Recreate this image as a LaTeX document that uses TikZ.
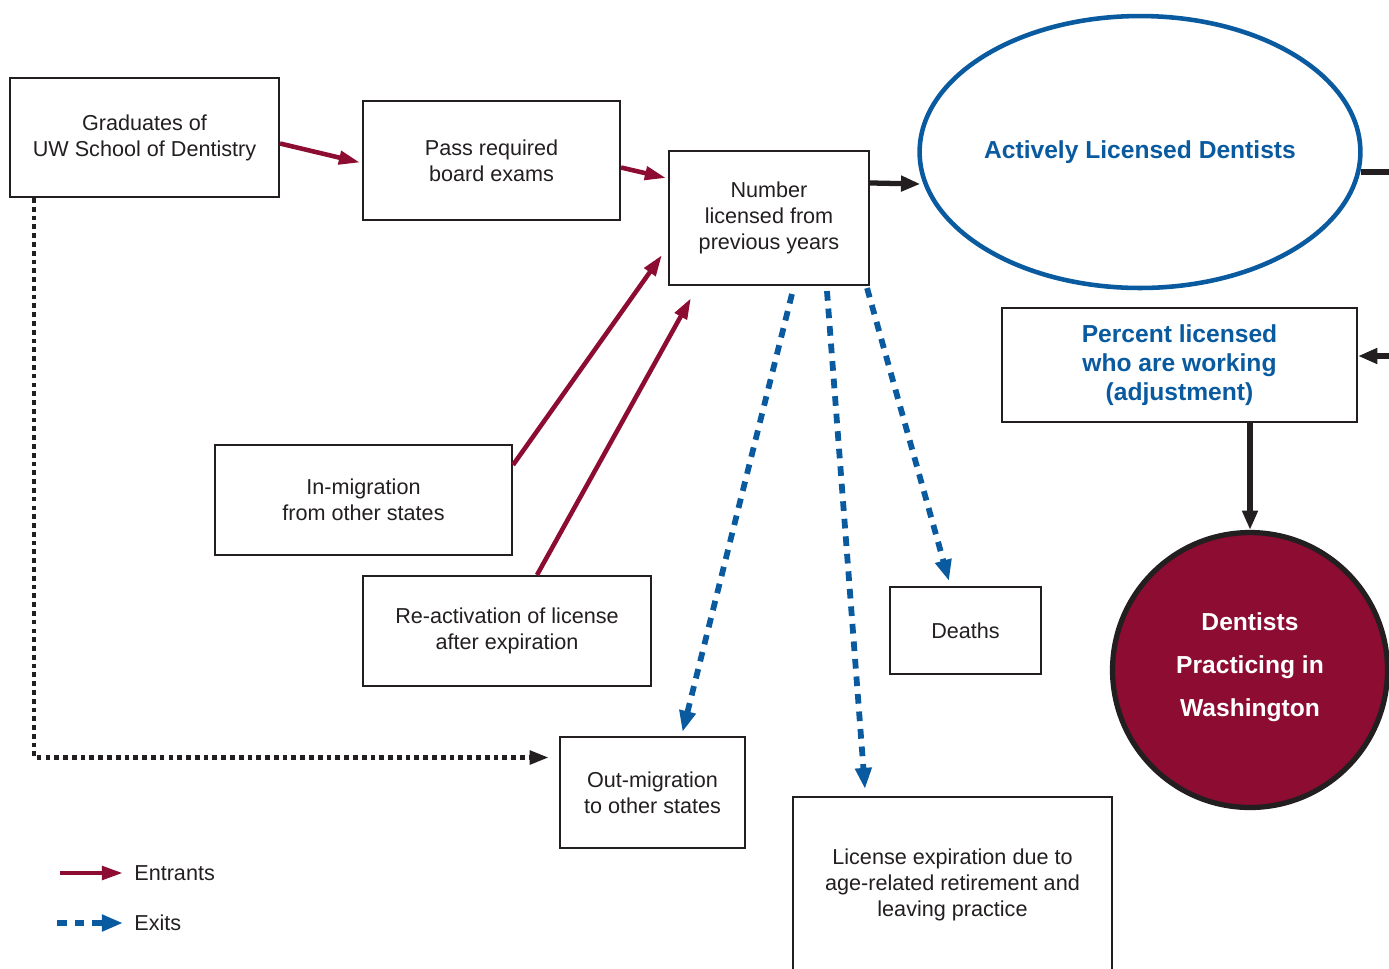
\documentclass[tikz,border=0pt]{standalone}
\usepackage{fontspec}
\setmainfont{Liberation Sans}
\usepackage{tikz}
\usetikzlibrary{positioning, calc}
\usetikzlibrary{shapes.geometric, arrows.meta}

\definecolor{wine}{RGB}{140,12,50}
\definecolor{dblue}{RGB}{10,90,160}
\definecolor{boxgray}{RGB}{35,31,32}

\tikzset{
    box/.style={draw=boxgray, line width=1.2pt, fill=white, inner sep=0pt, align=center,
        text=boxgray, font=\fontsize{12.3}{14.7}\selectfont},
    legend/.style={inner sep=0pt, anchor=west, text=boxgray, font=\fontsize{12.3}{14.7}\selectfont},
    entrant/.style={draw=wine, line width=2.6pt, -{Triangle[length=12pt,width=7.5pt]}},
    exits/.style={draw=dblue, line width=3.3pt, dash pattern=on 5.5pt off 4.5pt, -{Triangle[length=12pt,width=9pt]}},
    feed/.style={draw=boxgray, line width=3pt, -{Triangle[length=11pt,width=8.5pt]}},
    gradpath/.style={draw=boxgray, line width=2.7pt, dash pattern=on 2.7pt off 2.3pt, -{Triangle[length=11pt,width=7.5pt]}}
}

\begin{document}
\begin{tikzpicture}[x=0.02cm, y=-0.02cm]
                \useasboundingbox (0,0) rectangle (1389,968);
                \clip (0,0) rectangle (1389,968);

                \node[box, minimum width=5.38cm, minimum height=2.38cm] (grad) at (144.5,137.5) {Graduates of\\UW School of Dentistry};
                \node[box, minimum width=5.14cm, minimum height=2.38cm] (pass) at (491.5,160.5) {Pass required\\board exams};
                \node[box, minimum width=4.0cm, minimum height=2.68cm] (num) at (769,218) {Number\\licensed from\\previous years};
                \node[box, minimum width=5.94cm, minimum height=2.2cm] (inmig) at (363.5,500) {In-migration\\from other states};
                \node[box, minimum width=5.76cm, minimum height=2.2cm] (react) at (507,631) {Re-activation of license\\after expiration};
                \node[box, minimum width=3.02cm, minimum height=1.74cm] (deaths) at (965.5,630.5) {Deaths};
                \node[box, minimum width=3.7cm, minimum height=2.22cm] (outmig) at (652.5,792.5) {Out-migration\\to other states};
                \node[box, minimum width=6.38cm, minimum height=3.52cm] (lic) at (952.5,885) {License expiration due to\\age-related retirement and\\leaving practice};

                \node[ellipse, draw=dblue, line width=2.6pt, inner sep=0pt, minimum width=8.8cm, minimum height=5.44cm,
                    text=dblue, font=\bfseries\fontsize{14}{16.7}\selectfont] (act) at (1140,152) {Actively Licensed Dentists};
                \node[box, minimum width=7.1cm, minimum height=2.28cm, text=dblue,
                    font=\bfseries\fontsize{14}{16.7}\selectfont] (perc) at (1179.5,365) {Percent licensed\\who are working\\(adjustment)};
                \node[circle, draw=boxgray, fill=wine, line width=3pt, minimum size=5.5cm, align=center, text depth=6.5pt,
                    text=white, font=\bfseries\fontsize{14}{24.4}\selectfont] (prac) at (1250,670) {Dentists\\Practicing in\\Washington};

                \coordinate (rimA) at (1400,172);
                \coordinate (rimB) at (1400,356);

                \draw[entrant] ($(grad.east)+(0,6)$) -- ($(pass.west)+(-2,2)$);
                \draw[entrant] ($(pass.east)+(0,7)$) -- ($(num.north west)+(-2,28)$);
                \draw[entrant] ($(inmig.north east)+(0,21)$) -- ($(num.south west)+(-6,-31)$);
                \draw[entrant] ($(react.north)+(30,0)$) -- ($(num.south west)+(23,12)$);

                \draw[feed] ($(num.north east)+(0,33)$) -- ($(act.west)+(3,32)$);
                \draw[feed, -] ($(act.east)+(-2,20)$) -- (rimA);
                \draw[feed] (rimB) -- ($(perc.east)+(0,-9)$);
                \draw[feed] (perc.south -| prac.north) -- (prac.north);

                \draw[exits] ($(num.south west)+(124,8)$) -- ($(outmig.north)+(30,-4)$);
                \draw[exits] ($(num.south west)+(159,5)$) -- ($(lic.north west)+(73,-7)$);
                \draw[exits] ($(num.south east)+(-3,2)$) -- ($(deaths.north west)+(60,-5)$);

                \draw[gradpath] ($(grad.south west)+(25,0)$) |- ($(outmig.west)+(-10,-35)$);

                \coordinate (entrA) at (60,873);
                \node[legend] (entr) at (134,873) {Entrants};
                \draw[entrant] (entrA) -- ($(entr.west)+(-11,0)$);
                \coordinate (exitA) at (57,923);
                \node[legend] (exit) at (134,923) {Exits};
                \draw[exits] (exitA) -- ($(exit.west)+(-11,0)$);
            \end{tikzpicture}
\end{document}
